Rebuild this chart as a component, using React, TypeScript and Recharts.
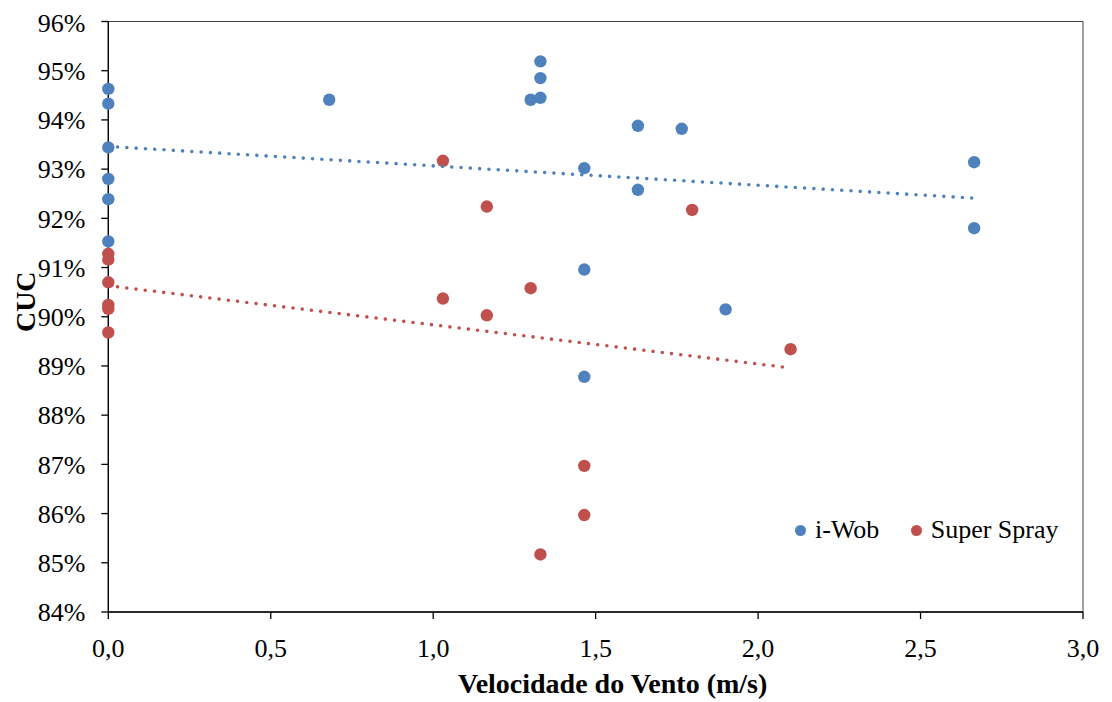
import React from 'react';
import {
  ScatterChart,
  Scatter,
  XAxis,
  YAxis,
  ReferenceArea,
} from 'recharts';

const BLUE = '#4F81BD';
const RED = '#C0504D';
const FONT = '"Liberation Serif", "Times New Roman", serif';

// i-Wob: wind speed (m/s) and CUC (%)
const iwobX = [0, 0, 0, 0, 0, 0, 0.68, 1.3, 1.33, 1.33, 1.33, 1.465, 1.465, 1.465, 1.63, 1.63, 1.765, 1.9, 2.665, 2.665];
const iwobY = [94.63, 94.33, 93.44, 92.8, 92.39, 91.53, 94.41, 94.41, 95.19, 94.85, 94.45, 93.02, 90.96, 88.78, 93.88, 92.58, 93.82, 90.15, 93.14, 91.8];

// Super Spray
const sprayX = [0, 0, 0, 0, 0, 0, 1.03, 1.03, 1.165, 1.165, 1.3, 1.33, 1.465, 1.465, 1.797, 2.1];
const sprayY = [91.28, 91.16, 90.7, 90.24, 90.16, 89.68, 93.17, 90.37, 92.24, 90.03, 90.58, 85.17, 86.97, 85.97, 92.17, 89.34];

// Linear trend line endpoints
const iwobTrendX = [0, 2.665];
const iwobTrendY = [93.46, 92.41];
const sprayTrendX = [0, 2.1];
const sprayTrendY = [90.63, 88.96];

const xTicks = [0, 0.5, 1, 1.5, 2, 2.5, 3];
const yTicks = [84, 85, 86, 87, 88, 89, 90, 91, 92, 93, 94, 95, 96];

const legendItems = [
  { name: 'i-Wob', color: BLUE },
  { name: 'Super Spray', color: RED },
];

const zip = (xs: number[], ys: number[]) => xs.map((x, i) => ({ x, y: ys[i] }));

const iwobData = zip(iwobX, iwobY);
const sprayData = zip(sprayX, sprayY);
const iwobTrend = zip(iwobTrendX, iwobTrendY);
const sprayTrend = zip(sprayTrendX, sprayTrendY);

const dot = (color: string) => (props: any) => (
  <circle cx={props.cx} cy={props.cy} r={6.2} fill={color} />
);
const noDot = () => <g />;

const trendLine = (color: string) => ({
  stroke: color,
  strokeWidth: 3.6,
  strokeDasharray: '0 9.3',
  strokeLinecap: 'round' as const,
});

const tickStyle = { fontFamily: FONT, fontSize: 26, fill: '#000' };

export default function App() {
  return (
    <div style={{ position: 'relative', width: 1104, height: 694, fontFamily: FONT }}>
      <ScatterChart
        width={1104}
        height={694}
        margin={{ top: 13.5, right: 29, left: 0, bottom: 0 }}
      >
        <XAxis
          type="number"
          dataKey="x"
          domain={[0, 3]}
          ticks={xTicks}
          tickFormatter={(v: number) => v.toFixed(1).replace('.', ',')}
          tick={tickStyle}
          tickSize={7}
          tickMargin={20}
          height={90}
          axisLine={{ stroke: '#000', strokeWidth: 1.3 }}
          tickLine={{ stroke: '#000', strokeWidth: 1.3 }}
          label={{
            value: 'Velocidade do Vento (m/s)',
            position: 'insideBottom',
            offset: 9,
            dx: 17,
            style: { fontFamily: FONT, fontSize: 28, fontWeight: 'bold', fill: '#000' },
          }}
        />
        <YAxis
          type="number"
          dataKey="y"
          domain={[84, 96]}
          ticks={yTicks}
          tickFormatter={(v: number) => `${v}%`}
          tick={tickStyle}
          tickSize={7}
          tickMargin={16}
          width={100.3}
          axisLine={{ stroke: '#000', strokeWidth: 1.3 }}
          tickLine={{ stroke: '#000', strokeWidth: 1.3 }}
          label={{
            value: 'CUC',
            content: (p: any) => {
              const vb = p.viewBox;
              const cx = vb.x + 17;
              const cy = vb.y + vb.height / 2 - 15;
              return (
                <text
                  x={cx}
                  y={cy}
                  transform={`rotate(-90, ${cx}, ${cy})`}
                  textAnchor="middle"
                  dominantBaseline="central"
                  style={{ fontFamily: FONT, fontSize: 28, fontWeight: 'bold', fill: '#000' }}
                >
                  CUC
                </text>
              );
            },
          }}
        />
        <ReferenceArea
          x1={0}
          x2={3}
          y1={84}
          y2={96}
          fill="none"
          fillOpacity={0}
          stroke="#404040"
          strokeWidth={1}
        />
        <Scatter name="i-Wob" data={iwobData} shape={dot(BLUE)} isAnimationActive={false} />
        <Scatter name="Super Spray" data={sprayData} shape={dot(RED)} isAnimationActive={false} />
        <Scatter
          name="i-Wob trend"
          data={iwobTrend}
          line={trendLine(BLUE)}
          shape={noDot}
          fill={BLUE}
          isAnimationActive={false}
        />
        <Scatter
          name="Super Spray trend"
          data={sprayTrend}
          line={trendLine(RED)}
          shape={noDot}
          fill={RED}
          isAnimationActive={false}
        />
      </ScatterChart>
      {legendItems.map((item, i) => (
        <div
          key={item.name}
          style={{
            position: 'absolute',
            left: i === 0 ? 787 : 902.7,
            top: 506,
            height: 32,
            display: 'flex',
            alignItems: 'center',
            fontSize: 26,
            color: '#000',
            whiteSpace: 'nowrap',
          }}
        >
          <span
            style={{
              display: 'inline-block',
              width: 11,
              height: 11,
              borderRadius: '50%',
              background: item.color,
              marginRight: 9,
            }}
          />
          {item.name}
        </div>
      ))}
    </div>
  );
}
